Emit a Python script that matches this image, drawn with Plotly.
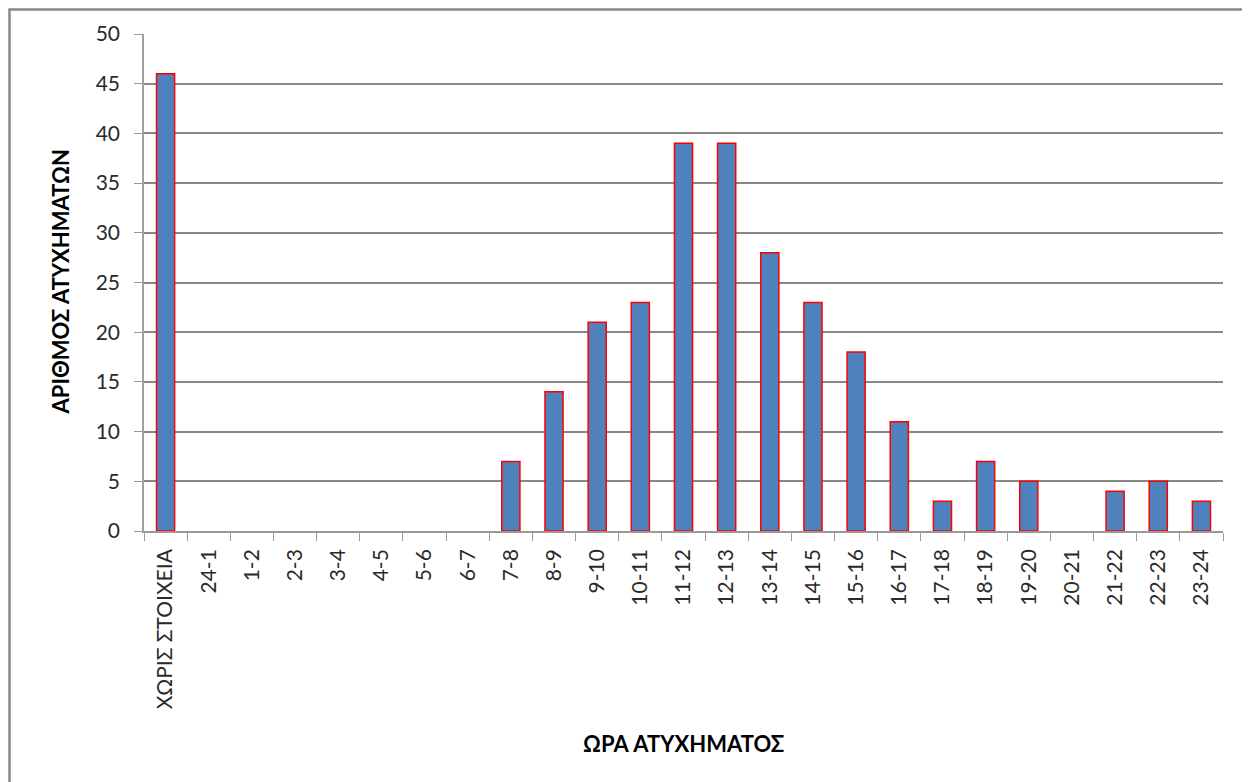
import plotly.graph_objects as go

# Accidents per hour of day
hours = ['ΧΩΡΙΣ ΣΤΟΙΧΕΙΑ', '24-1', '1-2', '2-3', '3-4', '4-5', '5-6', '6-7', '7-8', '8-9',
         '9-10', '10-11', '11-12', '12-13', '13-14', '14-15', '15-16', '16-17', '17-18',
         '18-19', '19-20', '20-21', '21-22', '22-23', '23-24']
accidents = [46, 0, 0, 0, 0, 0, 0, 0, 7, 14, 21, 23, 39, 39, 28, 23, 18, 11, 3, 7, 5, 0, 4, 5, 3]
y_ticks = [0, 5, 10, 15, 20, 25, 30, 35, 40, 45, 50]

# page body has an 8px margin, so the figure is shifted by that
OFF = 8
W, H = 1250 - OFF, 782 - OFF
L, R, T, B = 144 - OFF, 27, 34 - OFF, 251
PW, PH = W - L - R, H - T - B

FONT = 'Lato, Carlito, Calibri, sans-serif'

# empty hours are drawn as no bar at all
bar_y = [v if v else None for v in accidents]

fig = go.Figure()
fig.add_trace(go.Bar(
    x=hours, y=bar_y,
    marker=dict(color='#4F81BD', line=dict(color='#FF0000', width=1.5)),
    showlegend=False
))

fig.update_layout(
    width=W, height=H,
    margin=dict(l=L, r=R, t=T, b=B),
    plot_bgcolor='white', paper_bgcolor='white',
    bargap=0.58,
    font=dict(family=FONT, size=21, color='#2a2a2a'),
    xaxis=dict(
        type='category', tickangle=-90, tickson='boundaries',
        ticks='outside', ticklen=8, tickcolor='#999999',
        showline=True, linecolor='#999999', linewidth=1.5,
        showgrid=False, ticklabelstandoff=8,
        tickfont=dict(family=FONT, size=21, color='#2a2a2a'),
    ),
    yaxis=dict(
        range=[0, 50], tickvals=y_ticks,
        ticks='outside', ticklen=8, tickcolor='#999999',
        showline=True, linecolor='#A0A0A0', linewidth=1.5,
        showgrid=True, gridcolor='#888888', gridwidth=2,
        zeroline=False, ticklabelstandoff=10,
        tickfont=dict(family=FONT, size=21, color='#2a2a2a'),
    ),
    # chart frame: only the top and left edges are visible in the picture
    shapes=[dict(
        type='rect', xref='paper', yref='paper',
        x0=(1.5 - L) / PW, x1=(W + 20 - L) / PW,
        y0=(T + PH - (H + 20)) / PH, y1=(T + PH - 1.5) / PH,
        line=dict(color='#888888', width=2.5), fillcolor='rgba(0,0,0,0)', layer='below'
    )],
    annotations=[
        dict(text='<b>ΑΡΙΘΜΟΣ ΑΤΥΧΗΜΑΤΩΝ</b>', textangle=-90, showarrow=False,
             xref='paper', yref='paper', x=(60 - 144) / PW, y=0.5,
             xanchor='center', yanchor='middle',
             font=dict(family=FONT, size=22, color='#000000')),
        dict(text='<b>ΩΡΑ ΑΤΥΧΗΜΑΤΟΣ</b>', showarrow=False,
             xref='paper', yref='paper', x=0.5, y=(531 - 743) / PH,
             xanchor='center', yanchor='middle',
             font=dict(family=FONT, size=22, color='#000000')),
    ],
)

fig.write_html('out.html')
